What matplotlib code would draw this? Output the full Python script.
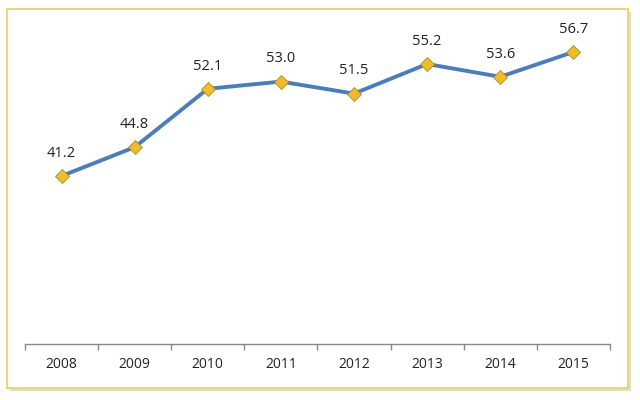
import matplotlib.pyplot as plt
from matplotlib.patches import Rectangle

years = ['2008', '2009', '2010', '2011', '2012', '2013', '2014', '2015']
values = [41.2, 44.8, 52.1, 53.0, 51.5, 55.2, 53.6, 56.7]

plt.rcParams['font.family'] = ['Open Sans', 'DejaVu Sans']

fig = plt.figure(figsize=(6.4, 4.0), dpi=100)
fig.patch.set_facecolor('white')

# shadow + yellow frame around the chart (kept below the axes)
fig.patches.append(Rectangle((0.016, 0.022), 0.97, 0.948, transform=fig.transFigure,
                             facecolor='#e2dccb', edgecolor='none', zorder=-2))
fig.patches.append(Rectangle((0.011, 0.03), 0.97, 0.948, transform=fig.transFigure,
                             facecolor='white', edgecolor='#ecd67a', linewidth=1.5, zorder=-1))

ax = fig.add_axes([0.039, 0.14, 0.914, 0.80])
ax.set_facecolor('none')
x = list(range(len(years)))
ax.plot(x, values, color='#4a7ebb', linewidth=2.8, zorder=2)
ax.plot(x, values, linestyle='none', marker='D', markersize=7,
        markerfacecolor='#f0bc2c', markeredgecolor='#b08a20', markeredgewidth=0.6, zorder=3)
for xi, v in zip(x, values):
    ax.annotate(f'{v:.1f}', (xi, v), xytext=(0, 11), textcoords='offset points',
                ha='center', va='bottom', fontsize=10.5, color='#222222')

ax.set_xlim(-0.5, len(years) - 0.5)
ax.set_ylim(20.2, 60.2)
ax.set_yticks([])
ax.set_xticks(x)
ax.set_xticklabels(years, fontsize=10, color='#222222')
ax.set_xticks([i - 0.5 for i in range(len(years) + 1)], minor=True)
ax.tick_params(axis='x', which='major', length=0, pad=9)
ax.tick_params(axis='x', which='minor', length=4, color='#888888', width=1)
for s in ['top', 'right', 'left']:
    ax.spines[s].set_visible(False)
ax.spines['bottom'].set_color('#888888')
ax.spines['bottom'].set_linewidth(1)

fig.savefig('out.png', dpi=100)
